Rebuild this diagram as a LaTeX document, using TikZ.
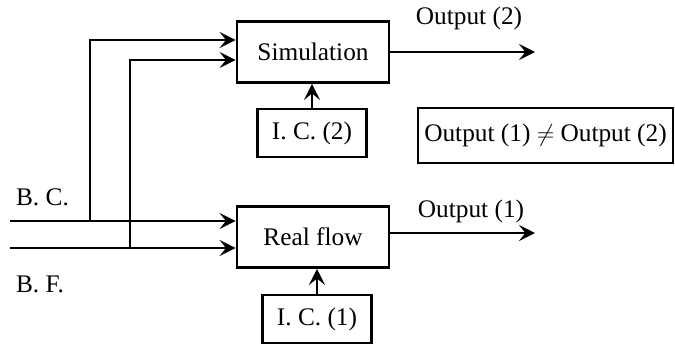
\documentclass[tikz,border=0pt]{standalone}
\usepackage{fontspec}
\setmainfont{Liberation Serif}
\usepackage{amsmath}
\usepackage{tikz}
\usetikzlibrary{arrows.meta}

\begin{document}
\begin{tikzpicture}[x=0.025cm,y=-0.025cm,line width=2pt,font=\fontsize{18}{21}\selectfont,
    block/.style={draw,rectangle,minimum width=3.8cm,minimum height=1.525cm},
    ic node/.style={draw,rectangle,minimum width=2.725cm,minimum height=1.2cm},
    to/.style={-{Stealth[length=4mm,width=4mm,inset=1.6mm]}}]
    \useasboundingbox (0,0) rectangle (675,345);

    \node[block] (sim) at (313,52) {Simulation};
    \node[block] (real) at (313,237) {Real flow};
    \node[ic node] (ic2) at (312,133) {I. C. (2)};
    \node[ic node] (ic1) at (317,319) {I. C. (1)};
    \node[draw,line width=1pt,minimum width=6.375cm,minimum height=1.375cm] (cmp) at (545.5,135.5) {Output (1) $\neq$ Output (2)};

    \coordinate (bc) at (10,221);
    \coordinate (bf) at (10,248);
    \coordinate (out2) at (535,52);
    \coordinate (out1) at (535,233);

    \node[anchor=south west] (lbc) at (10,212) {B. C.};
    \node[anchor=north west] (lbf) at (10,270) {B. F.};

    \draw[to] (bc) -- (bc -| real.west);
    \draw[to] (bf) -- (bf -| real.west);
    \draw[to] (90,221) |- (sim.west |- 0,40);
    \draw[to] (130,248) |- (sim.west |- 0,60);

    \draw[to] (sim.east) -- (out2);
    \draw[to] (real.east |- out1) -- (out1);
    \node (lo2) at (469,18) {Output (2)};
    \node (lo1) at (471,211) {Output (1)};

    \draw[to] (ic2.north) -- (ic2 |- sim.south);
    \draw[to] (ic1.north) -- (ic1 |- real.south);
  \end{tikzpicture}
\end{document}
